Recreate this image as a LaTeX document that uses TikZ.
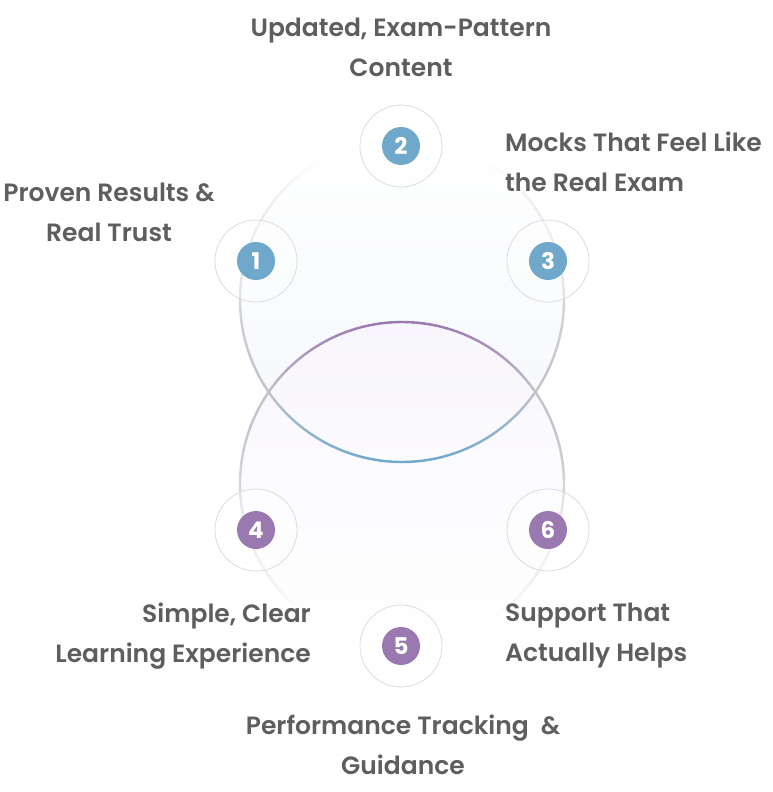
\documentclass[tikz,border=0pt]{standalone}
\usepackage{fontspec}
\setmainfont{Poppins}[BoldFont={Poppins SemiBold}]
\newfontfamily\ballfont{Poppins Bold}
\usepackage{tikz}
\usetikzlibrary{positioning}
\definecolor{txtgray}{HTML}{5E5E5E}
\definecolor{ringgray}{HTML}{C4C4CC}
\definecolor{badgeline}{HTML}{DCDCE0}
\definecolor{stepblue}{HTML}{6FA8CB}
\definecolor{steppurple}{HTML}{9A78B0}
\definecolor{upfill}{HTML}{F4F7FB}
\definecolor{lowfill}{HTML}{F8F6FC}

\begin{document}
\begin{tikzpicture}
		[x=1pt, y=-1pt, inner sep=0pt,
		label/.style	= {font=\bfseries\fontsize{25}{40}\selectfont, text=txtgray},
		halo/.style		= {circle, draw=badgeline, line width=0.8pt, fill=white, fill opacity=0.35, minimum size=82pt},
		blueball/.style	= {circle, fill=stepblue, minimum size=38pt, text=white, font=\ballfont\fontsize{23}{23}\selectfont},
		purpleball/.style	= {circle, fill=steppurple, minimum size=38pt, text=white, font=\ballfont\fontsize{23}{23}\selectfont},
		arcpart/.style	= {line width=2.4pt, line cap=round}]
		
		\useasboundingbox (0,0) rectangle (772,792);
		
		% the two big circles
		\coordinate (upc) at (402,300);
		\coordinate (lowc) at (402,484);
		\shade [top color=white, bottom color=upfill] (upc) circle (162);
		\shade [top color=lowfill, bottom color=white] (lowc) circle (162);
		
		% upper circle, faded towards the top
		\foreach \a in {146,148,...,392} {
			\pgfmathsetmacro{\p}{max(0,min(100,(abs(\a-270)-30)/85*100))}
			\draw [arcpart, color=ringgray!\p!white] (upc) ++(\a:162) arc [start angle=\a, end angle=\a+2, radius=162];
		}
		% lower circle, faded towards the bottom
		\foreach \a in {-34,-32,...,212} {
			\pgfmathsetmacro{\p}{max(0,min(100,(abs(\a-90)-35)/75*100))}
			\draw [arcpart, color=ringgray!\p!white] (lowc) ++(\a:162) arc [start angle=\a, end angle=\a+2, radius=162];
		}
		% the lens: blue below, purple above
		\foreach \a in {34,36,...,144} {
			\pgfmathsetmacro{\p}{100*(1-(abs(\a+1-90)/56)^2)}
			\draw [arcpart, color=stepblue!\p!ringgray] (upc) ++(\a:162) arc [start angle=\a, end angle=\a+2, radius=162];
		}
		\foreach \a in {214,216,...,324} {
			\pgfmathsetmacro{\p}{100*(1-(abs(\a+1-270)/56)^2)}
			\draw [arcpart, color=steppurple!\p!ringgray] (lowc) ++(\a:162) arc [start angle=\a, end angle=\a+2, radius=162];
		}
		
		% badges
		\node at (256,261)	[halo]	(h1)	{};
		\node at (401,146)	[halo]	(h2)	{};
		\node at (548,261)	[halo]	(h3)	{};
		\node at (256,530)	[halo]	(h4)	{};
		\node at (401,646)	[halo]	(h5)	{};
		\node at (548,530)	[halo]	(h6)	{};
		
		\node at (h1)	[blueball]		(b1)	{1};
		\node at (h2)	[blueball]		(b2)	{2};
		\node at (h3)	[blueball]		(b3)	{3};
		\node at (h4)	[purpleball]	(b4)	{4};
		\node at (h5)	[purpleball]	(b5)	{5};
		\node at (h6)	[purpleball]	(b6)	{6};
		
		% labels
		\node at (401,47)	[label, align=center]			(t2)	{Updated, Exam-Pattern\\Content};
		\node at (505,162)	[label, align=left, anchor=west]	(t3)	{Mocks That Feel Like\\the Real Exam};
		\node at (109,212)	[label, align=center]			(t1)	{Proven Results \&\\Real Trust};
		\node at (311,636)	[label, align=right, anchor=east]	(t4)	{Simple, Clear\\Learning Experience};
		\node at (505,636)	[label, align=left, anchor=west]	(t6)	{Support That\\Actually Helps};
		\node at (403,745)	[label, align=center]			(t5)	{Performance Tracking\ \ \&\\Guidance};
		
		\end{tikzpicture}
\end{document}
